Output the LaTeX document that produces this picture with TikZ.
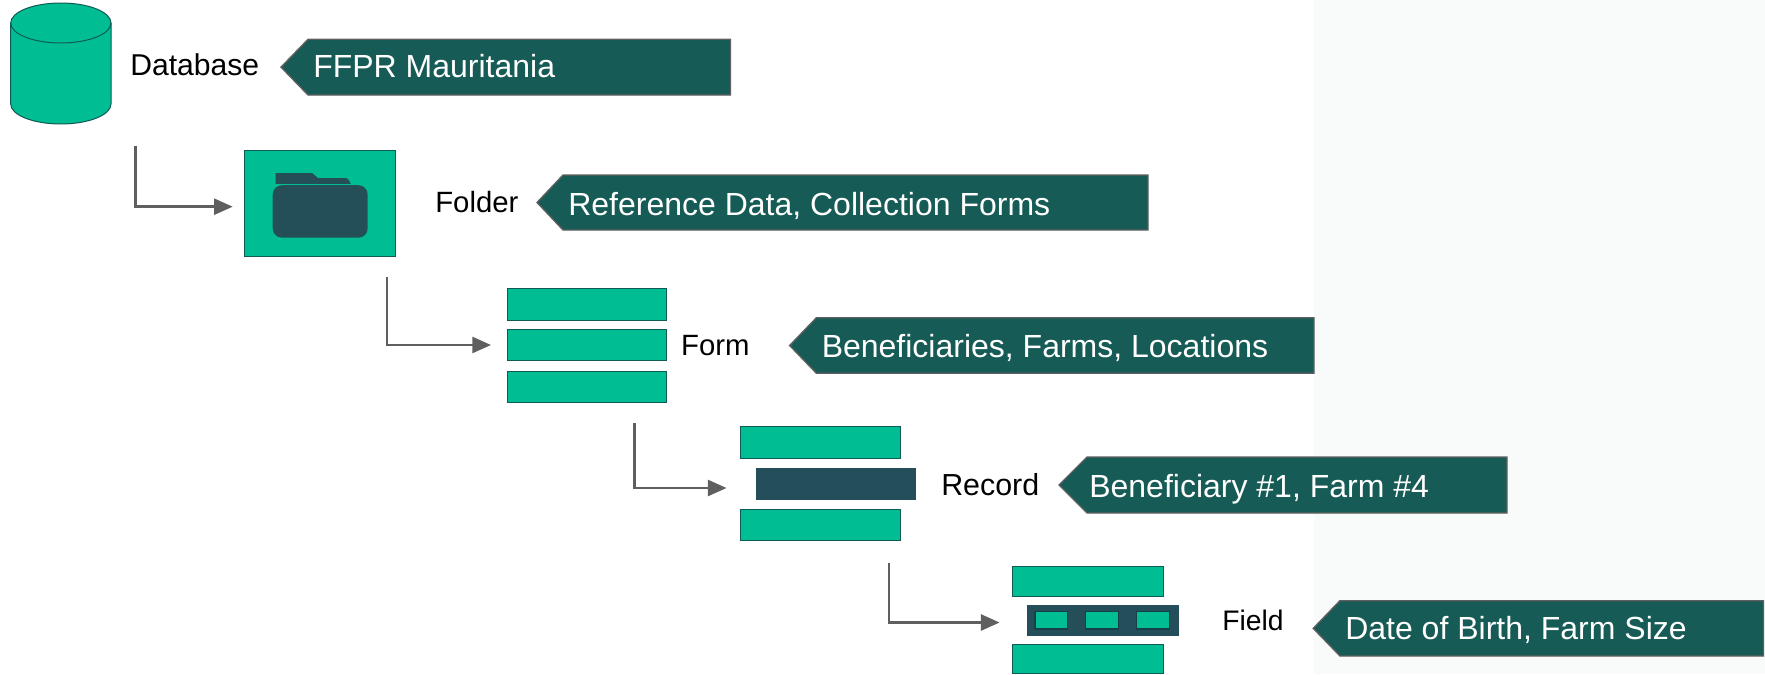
\documentclass[tikz,border=0pt]{standalone}
\usepackage{fontspec}
\setmainfont{Liberation Sans}
\usetikzlibrary{arrows.meta}
\definecolor{gr}{HTML}{00BD94}
\definecolor{grline}{HTML}{0E5A55}
\definecolor{pent}{HTML}{165B55}
\definecolor{barD}{HTML}{234E5A}
\definecolor{folderD}{HTML}{244F58}
\definecolor{tinyline}{HTML}{163F47}
\definecolor{conn}{HTML}{5F5F5F}
\definecolor{pale}{HTML}{F9FBFA}
\tikzset{
  x=0.75pt,y=-0.75pt,
  greenbar/.style={draw=grline,line width=0.75pt,fill=gr},
  darkbar/.style={draw=barD,line width=0.75pt,fill=barD},
  tinybox/.style={draw=tinyline,line width=0.9pt,fill=gr},
  boxnode/.style={inner sep=0pt,outer sep=0pt,rectangle},
  pentshape/.style={draw=conn,line width=1pt,fill=pent},
  pentlabel/.style={anchor=base west,inner sep=0pt,text=white,font=\fontsize{24}{28}\selectfont},
  itemlabel/.style={anchor=base west,inner sep=0pt,text=black,font=\fontsize{22}{26}\selectfont},
  connector/.style={draw=conn,line width=1.9pt,-{Triangle[length=14pt,width=12pt]}},
}
% name, style, x1, y1, x2, y2 in reference pixels
\newcommand{\boxat}[6]{%
  \pgfmathsetmacro{\bxw}{(#5-#3)*0.75}%
  \pgfmathsetmacro{\bxh}{(#6-#4)*0.75}%
  \node[boxnode,#2,minimum width=\bxw pt,minimum height=\bxh pt] (#1) at ({(#3+#5)/2},{(#4+#6)/2}) {};}
% name, left tip, shoulder, right, top, bottom
\newcommand{\pentat}[6]{%
  \draw[pentshape] (#2,{(#5+#6)/2}) -- (#3,#5) -- (#4,#5) -- (#4,#6) -- (#3,#6) -- cycle;
  \coordinate (#1) at (#2,{(#5+#6)/2});}
\begin{document}
\begin{tikzpicture}
\useasboundingbox (0,0) rectangle (1765,674);
\fill[pale] (1314,0) rectangle (1765,674);

% database cylinder
\draw[greenbar] (10.7,23) -- (10.7,104) arc[x radius=50.15,y radius=20,start angle=180,end angle=0] -- (111,23) arc[x radius=50.15,y radius=20,start angle=0,end angle=-180] -- cycle;
\draw[greenbar,fill=none] (10.7,23) arc[x radius=50.15,y radius=20,start angle=180,end angle=0];
\node[itemlabel,font=\fontsize{22.6}{26}\selectfont] (tdb) at (130,75) {Database};
\pentat{p1}{281}{308}{730.5}{39.3}{95}
\node[pentlabel] (l1) at (313,78) {FFPR Mauritania};

% folder
\boxat{folderbox}{greenbar}{244}{150.7}{395.5}{256}
\fill[folderD] (275.7,184.6) -- (275.7,173) -- (312,173) -- (318,178) -- (346,178) to[out=0,in=-90] (351.7,184.6) -- cycle;
\fill[gr] (275.7,184.4) rectangle (351.7,185.2);
\fill[folderD,rounded corners=7pt] (272.7,185.2) rectangle (367.7,237.7);
\node[itemlabel] (tfo) at (435,212.7) {Folder};
\pentat{p2}{537}{563}{1148}{175}{230}
\node[pentlabel] (l2) at (568,215) {Reference Data, Collection Forms};

% form
\boxat{f1}{greenbar}{507.9}{288.7}{666.4}{320}
\boxat{f2}{greenbar}{507.9}{329.3}{666.4}{360.3}
\boxat{f3}{greenbar}{507.9}{371}{666.4}{402}
\node[itemlabel] (tfm) at (680.8,355.7) {Form};
\pentat{p3}{789.6}{816.4}{1314}{317.7}{373.3}
\node[pentlabel] (l3) at (821.5,357) {Beneficiaries, Farms, Locations};

% record
\boxat{r1}{greenbar}{740.7}{426.7}{900.4}{458.7}
\boxat{r2}{darkbar}{756}{468}{915.7}{499.3}
\boxat{r3}{greenbar}{740.7}{509.7}{900.4}{540.7}
\node[itemlabel,font=\fontsize{22.8}{26}\selectfont] (trc) at (941,495) {Record};
\pentat{p4}{1059}{1087}{1507}{457}{513}
\node[pentlabel] (l4) at (1089,497) {Beneficiary \#1, Farm \#4};

% field
\boxat{g1}{greenbar}{1012.4}{566}{1163.8}{596.3}
\boxat{g2}{darkbar}{1027}{605}{1178.7}{635}
\boxat{g3}{greenbar}{1012.4}{644}{1163.8}{673.3}
\boxat{s1}{tinybox}{1035}{611.5}{1067.3}{629}
\boxat{s2}{tinybox}{1085.8}{611.5}{1118.6}{629}
\boxat{s3}{tinybox}{1136.6}{611.5}{1169.4}{629}
\node[itemlabel,font=\fontsize{21.2}{26}\selectfont] (tfd) at (1222,630) {Field};
\pentat{p5}{1313.2}{1339.9}{1763.4}{600.7}{656}
\node[pentlabel] (l5) at (1345,639) {Date of Birth, Farm Size};

% connectors
\coordinate (a1s) at (135.7,145.7); \coordinate (a1e) at (232.7,206.7);
\coordinate (a2s) at (387,276.7);   \coordinate (a2e) at (491,345);
\coordinate (a3s) at (634.6,423);   \coordinate (a3e) at (726.5,488);
\coordinate (a4s) at (889,563);     \coordinate (a4e) at (999.6,622.5);
\draw[connector] (a1s) |- (a1e);
\draw[connector] (a2s) |- (a2e);
\draw[connector] (a3s) |- (a3e);
\draw[connector] (a4s) |- (a4e);
\end{tikzpicture}
\end{document}
